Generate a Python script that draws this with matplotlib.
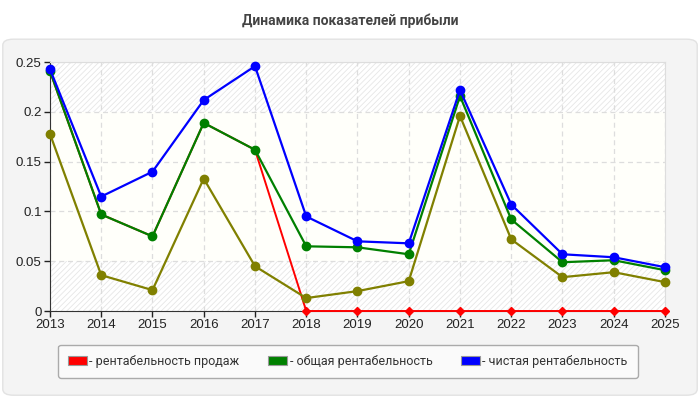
import matplotlib.pyplot as plt
from matplotlib.patches import FancyBboxPatch, Patch

years = [2013, 2014, 2015, 2016, 2017, 2018, 2019, 2020, 2021, 2022, 2023, 2024, 2025]
sales_profit = [0.241, 0.097, 0.075, 0.189, 0.162, 0, 0, 0, 0, 0, 0, 0, 0]
total_profit = [0.241, 0.097, 0.075, 0.189, 0.162, 0.065, 0.064, 0.057, 0.216, 0.092, 0.049, 0.051, 0.041]
net_profit = [0.243, 0.115, 0.140, 0.212, 0.246, 0.095, 0.070, 0.068, 0.222, 0.107, 0.057, 0.054, 0.044]
other_profit = [0.178, 0.036, 0.021, 0.133, 0.045, 0.013, 0.020, 0.030, 0.196, 0.072, 0.034, 0.039, 0.029]
yticks = [0, 0.05, 0.1, 0.15, 0.2, 0.25]
ytick_labels = ["0", "0.05", "0.1", "0.15", "0.2", "0.25"]
legend_labels = ["- рентабельность продаж", "- общая рентабельность", "- чистая рентабельность"]

plt.rcParams['font.family'] = ['Liberation Sans', 'DejaVu Sans']
plt.rcParams['hatch.color'] = '#e6e6e6'
plt.rcParams['hatch.linewidth'] = 0.6

fig = plt.figure(figsize=(7, 4), dpi=100)
fig.patch.set_facecolor('white')

# grey rounded panel behind the chart
panel = FancyBboxPatch((0.004, 0.012), 0.992, 0.89, boxstyle="round,pad=0,rounding_size=0.015",
                       transform=fig.transFigure, facecolor='#f4f4f4', edgecolor='#e2e2e2',
                       linewidth=1, zorder=-5)
fig.patches.append(panel)

fig.text(0.5, 0.948, "Динамика показателей прибыли", ha='center', va='center',
         fontsize=10, fontweight='bold', color='#444444', family=['Roboto', 'DejaVu Sans'])

ax = fig.add_axes([0.0714, 0.2225, 0.8786, 0.622])
ax.set_zorder(1)
ax.set_facecolor('#fffffa')
ax.axhspan(0.2, 0.25, facecolor='white', hatch='//////', edgecolor='#e6e6e6', linewidth=0, zorder=0)
ax.axhspan(0, 0.05, facecolor='white', hatch='//////', edgecolor='#e6e6e6', linewidth=0, zorder=0)

ax.plot(years, sales_profit, color='#ff0000', lw=1.4, marker='D', ms=4.2, zorder=3, clip_on=False)
ax.plot(years, other_profit, color='#808000', lw=1.6, marker='o', ms=6, zorder=4, clip_on=False)
ax.plot(years, total_profit, color='#008000', lw=1.6, marker='o', ms=6, zorder=5, clip_on=False)
ax.plot(years, net_profit, color='#0000ff', lw=1.6, marker='o', ms=6, zorder=6, clip_on=False)

ax.set_xlim(2013, 2025)
ax.set_ylim(0, 0.25)
ax.set_xticks(years)
ax.set_yticks(yticks)
ax.set_yticklabels(ytick_labels)
ax.tick_params(labelsize=9.5, colors='#222222', length=4, width=1, pad=2)
ax.grid(True, color='#dddddd', linestyle=(0, (4, 3)), linewidth=0.9, zorder=1)
ax.set_axisbelow(True)
for side in ['top', 'right']:
    ax.spines[side].set_color('#dddddd')
for side in ['left', 'bottom']:
    ax.spines[side].set_color('#333333')
    ax.spines[side].set_zorder(2)

handles = [Patch(facecolor=c, edgecolor='#999999', linewidth=0.8)
           for c in ['#ff0000', '#008000', '#0000ff']]
leg = fig.legend(handles, legend_labels, loc='center', bbox_to_anchor=(0.497, 0.097), ncol=3,
                 frameon=True, fancybox=True, handlelength=1.5, handleheight=0.8,
                 handletextpad=0.2, columnspacing=2.3, borderpad=0.8,
                 prop={'family': ['Roboto', 'DejaVu Sans'], 'size': 9})
leg.set_zorder(2)
leg.get_frame().set_facecolor('#fafafa')
leg.get_frame().set_edgecolor('#aaaaaa')
leg.get_frame().set_alpha(1)
for t in leg.get_texts():
    t.set_color('#333333')

fig.savefig('out.png', dpi=100)
